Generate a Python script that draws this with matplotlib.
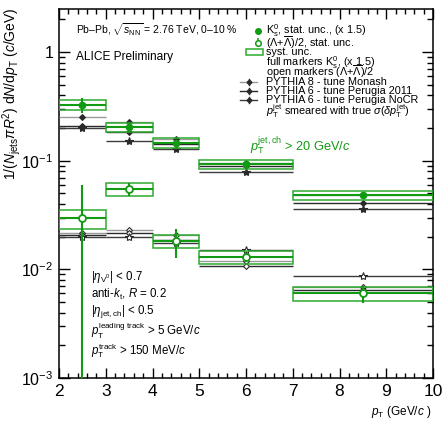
import matplotlib
matplotlib.use("Agg")
import matplotlib.pyplot as plt
from matplotlib.patches import Rectangle
from matplotlib.ticker import LogLocator, MultipleLocator, FixedLocator, NullFormatter
import numpy as np

plt.rcParams['font.family'] = ['Liberation Sans', 'DejaVu Sans']
plt.rcParams['mathtext.fontset'] = 'custom'
plt.rcParams['mathtext.rm'] = 'Liberation Sans'
plt.rcParams['mathtext.it'] = 'Liberation Sans:italic'
plt.rcParams['mathtext.bf'] = 'Liberation Sans:bold'

# ---- data ----
bin_lo = [2, 3, 4, 5, 7]
bin_hi = [3, 4, 5, 7, 10]
bin_center = [2.5, 3.5, 4.5, 6.0, 8.5]

k0s = [0.327, 0.203, 0.146, 0.093, 0.048]
k0s_stat = [0.05, 0.012, 0.008, 0.004, 0.003]
k0s_syst_rel = [0.10, 0.10, 0.10, 0.09, 0.10]

lam = [0.0295, 0.055, 0.0182, 0.013, 0.0060]
lam_stat = [0.030, 0.008, 0.0055, 0.0012, 0.0011]
lam_syst_rel = [0.20, 0.14, 0.14, 0.14, 0.14]

k0s_monash = [0.254, 0.227, 0.158, 0.096, 0.048]
k0s_p2011 = [0.210, 0.184, 0.142, 0.089, 0.041]
k0s_nocr = [0.200, 0.153, 0.128, 0.078, 0.0357]

lam_monash = [0.0215, 0.023, 0.0207, 0.0120, 0.0069]
lam_p2011 = [0.0205, 0.0215, 0.0188, 0.0108, 0.0064]
lam_nocr = [0.0200, 0.0200, 0.0174, 0.0150, 0.0086]

xticks = [2, 3, 4, 5, 6, 7, 8, 9, 10]

GREEN = '#129a12'
GREEN_BOX = '#2eaa2e'
GREY = '#9a9a9a'
DARK = '#2a2a2a'
DARK2 = '#3c3c3c'

W, H = 442, 422
fig = plt.figure(figsize=(W / 100, H / 100), dpi=100)
L, R, T, B = 59, 433, 9, 378
ax = fig.add_axes([L / W, 1 - B / H, (R - L) / W, (B - T) / H])
ax.set_yscale('log')
ax.set_xlim(2, 10)
ax.set_ylim(1e-3, 2.49)

xc = np.array(bin_center)
xerr = [np.array(bin_center) - np.array(bin_lo), np.array(bin_hi) - np.array(bin_center)]

def pythia(vals, color, marker, ms, filled, lw=1.0, z=3):
    v = np.array(vals)
    ax.errorbar(xc, v, xerr=xerr, yerr=0.035 * v, fmt='none', ecolor=color, elinewidth=lw, capsize=0, zorder=z)
    ax.plot(xc, v, linestyle='none', marker=marker, ms=ms, color=DARK,
            mfc=DARK if filled else 'white', mec=DARK, mew=0.8, zorder=z + 0.5)

# PYTHIA curves
pythia(k0s_monash, GREY, 'D', 3, True)
pythia(k0s_p2011, DARK, 'D', 3, True)
pythia(k0s_nocr, DARK2, '*', 6, True)
pythia(lam_monash, GREY, 'D', 3, False)
pythia(lam_p2011, DARK, 'D', 3, False)
pythia(lam_nocr, DARK2, '*', 6, False)

# systematic boxes
for lo, hi, v, r in zip(bin_lo, bin_hi, k0s, k0s_syst_rel):
    ax.add_patch(Rectangle((lo, v * (1 - r)), hi - lo, 2 * r * v, fill=False,
                           edgecolor=GREEN_BOX, lw=1.1, zorder=5))
for lo, hi, v, r in zip(bin_lo, bin_hi, lam, lam_syst_rel):
    ax.add_patch(Rectangle((lo, v * (1 - r)), hi - lo, 2 * r * v, fill=False,
                           edgecolor=GREEN_BOX, lw=1.1, zorder=5))

# data
ax.errorbar(xc, k0s, xerr=xerr, yerr=k0s_stat, fmt='o', color=GREEN, ms=4.5,
            elinewidth=1.5, capsize=0, zorder=6)
lam_lo = np.minimum(np.array(lam_stat), np.array(lam) - 1e-4)
ax.errorbar(xc, lam, xerr=xerr, yerr=[lam_lo, lam_stat], fmt='o', color=GREEN, mfc='white',
            mec=GREEN, mew=1.3, ms=5, elinewidth=1.5, capsize=0, zorder=6)

# ticks
ax.xaxis.set_major_locator(FixedLocator(xticks))
ax.xaxis.set_minor_locator(MultipleLocator(0.2))
ax.set_xticklabels([str(t) for t in xticks])
ax.yaxis.set_major_locator(LogLocator(base=10, numticks=10))
ax.yaxis.set_minor_locator(LogLocator(base=10, subs=np.arange(2, 10), numticks=20))
ax.yaxis.set_minor_formatter(NullFormatter())
ax.set_yticks([1e-3, 1e-2, 1e-1, 1])
ax.set_yticklabels([r'$10^{-3}$', r'$10^{-2}$', r'$10^{-1}$', '1'])
ax.tick_params(which='both', direction='in', top=True, right=True, width=1)
ax.tick_params(axis='y', labelsize=11.5)
ax.tick_params(axis='x', labelsize=12.5)
ax.tick_params(which='major', length=8, pad=4)
ax.tick_params(which='minor', length=4)
ax.tick_params(axis='x', which='major', length=7, pad=4)
ax.tick_params(axis='x', which='minor', length=3.5)
for s in ax.spines.values():
    s.set_linewidth(1.1)

def fx(px):
    return (px - L) / (R - L)

def fy(py):
    return (B - py) / (B - T)

tr = ax.transAxes
fs = 7.8
ax.text(fx(76), fy(30), r'Pb–Pb, $\sqrt{s_{\rm NN}}$ = 2.76 TeV, 0–10 %', transform=tr,
        fontsize=7.5, va='center', ha='left')
ax.text(fx(76), fy(57), 'ALICE Preliminary', transform=tr, fontsize=8.6, va='center', ha='left')

# legend (manual)
lx = 266
rows = [30.7, 42.7, 51.7, 62.7, 71.7, 81.7, 90.7, 100, 110.7]
ax.plot([fx(258)], [fy(rows[0])], 'o', color=GREEN, ms=4, transform=tr, clip_on=False)
ax.errorbar([fx(258)], [fy(rows[1])], yerr=[[0.012], [0.012]], fmt='o', color=GREEN, mfc='white',
            mec=GREEN, ms=4, mew=1.1, elinewidth=1.1, capsize=0, transform=tr, clip_on=False)
ax.add_patch(Rectangle((fx(246), fy(rows[2] + 3)), fx(263) - fx(246), fy(rows[2] - 3) - fy(rows[2] + 3),
                       transform=tr, fill=False, edgecolor=GREEN_BOX, lw=1.1, clip_on=False))
for i, col in zip([5, 6, 7], [GREY, DARK, DARK2]):
    ax.plot([fx(240), fx(257)], [fy(rows[i])] * 2, color=col, lw=1.0, transform=tr)
    ax.plot([fx(248.5), fx(248.5)], [fy(rows[i] - 3), fy(rows[i] + 3)], color=DARK, lw=1.0, transform=tr)
    ax.plot([fx(248.5)], [fy(rows[i])], 'D', color=DARK, ms=2.5, transform=tr)
labels = [r'K$^{0}_{\rm s}$, stat. unc., (x 1.5)',
          r'($\Lambda$+$\overline{\Lambda}$)/2, stat. unc.',
          'syst. unc.',
          r'full markers K$^{0}_{\rm s}$, (x 1.5)',
          r'open markers ($\Lambda$+$\overline{\Lambda}$)/2',
          'PYTHIA 8 - tune Monash',
          'PYTHIA 6 - tune Perugia 2011',
          'PYTHIA 6 - tune Perugia NoCR',
          r'$p_{\rm T}^{\rm jet}$ smeared with true $\sigma(\delta p_{\rm T}^{\rm jet})$']
for y, t in zip(rows, labels):
    ax.text(fx(lx), fy(y), t, transform=tr, fontsize=fs, va='center', ha='left')

ax.text(fx(250), fy(146), r'$p_{\rm T}^{\rm jet,ch}$ > 20 GeV/$c$', transform=tr, fontsize=9.2,
        color=GREEN, va='center', ha='left')

block = [(277, r'$|\eta_{\rm V^0}|$ < 0.7'),
         (294, r'anti-$k_{\rm t}$, $R$ = 0.2'),
         (311, r'$|\eta_{\rm jet,ch}|$ < 0.5'),
         (331, r'$p_{\rm T}^{\rm leading\ track}$ > 5 GeV/$c$'),
         (351, r'$p_{\rm T}^{\rm track}$ > 150 MeV/$c$')]
for y, t in block:
    ax.text(fx(91), fy(y), t, transform=tr, fontsize=8.3, va='center', ha='left')

fig.text(432 / W, 1 - 412 / H, r'$p_{\rm T}$ (GeV/$c$ )', fontsize=8.5, ha='right', va='center')
fig.text(12 / W, 1 - 8 / H, r'1/($N_{\rm jets}\pi R^{2}$) d$N$/d$p_{\rm T}$ ($c$/GeV)', fontsize=10,
         rotation=90, ha='center', va='top')

fig.savefig('out.png', dpi=100)
